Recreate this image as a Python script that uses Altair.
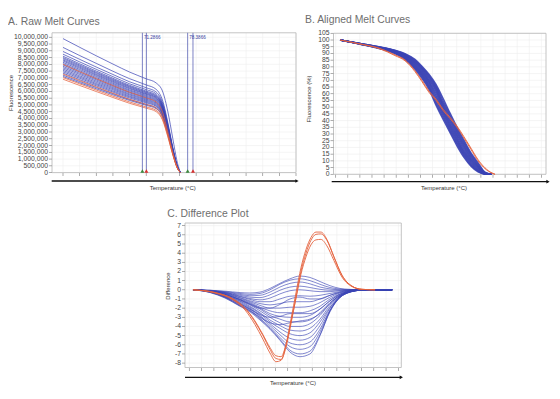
import altair as alt
import pandas as pd

FONT = "Liberation Sans, Arial, Helvetica, sans-serif"
BLUE = "#3a43b4"
RED = "#e4623d"
GRID = "#efefef"
BOX = "#bdbdbd"
TICK = "#8a8a8a"
TITLE_GREY = "#6e6e6e"
W, H = 544, 383

# ---------------- Panel A: raw melt curves (fluorescence, millions) ----------------
A_X = [0, 1, 2, 3, 4, 5, 5.6, 6.0, 6.3, 6.6, 6.85, 7.05]
A_BLUE_M = [
    [9.9, 9.26, 8.63, 8.02, 7.43, 6.93, 6.62, 5.95, 4.5, 2.5, 0.85, 0],
    [9.25, 8.65, 8.07, 7.49, 6.94, 6.48, 6.15, 5.27, 3.7, 1.85, 0.56, 0],
    [8.95, 8.37, 7.8, 7.25, 6.71, 6.27, 5.95, 5.1, 3.58, 1.79, 0.54, 0],
    [8.75, 8.18, 7.63, 7.09, 6.56, 6.13, 5.82, 4.99, 3.5, 1.75, 0.53, 0],
    [8.6, 8.04, 7.5, 6.97, 6.45, 6.02, 5.72, 4.9, 3.44, 1.72, 0.52, 0],
    [8.5, 7.95, 7.41, 6.89, 6.38, 5.95, 5.65, 4.85, 3.4, 1.7, 0.51, 0],
    [8.42, 7.87, 7.34, 6.82, 6.32, 5.89, 5.6, 4.8, 3.37, 1.68, 0.51, 0],
    [8.33, 7.79, 7.26, 6.75, 6.25, 5.83, 5.54, 4.75, 3.33, 1.67, 0.5, 0],
    [8.25, 7.71, 7.19, 6.68, 6.19, 5.78, 5.49, 4.7, 3.3, 1.65, 0.5, 0],
    [8.15, 7.62, 7.11, 6.6, 6.11, 5.71, 5.42, 4.65, 3.26, 1.63, 0.49, 0],
    [8.05, 7.53, 7.02, 6.52, 6.04, 5.64, 5.35, 4.59, 3.22, 1.61, 0.48, 0],
    [7.95, 7.43, 6.93, 6.44, 5.96, 5.57, 5.29, 4.53, 3.18, 1.59, 0.48, 0],
    [7.85, 7.34, 6.85, 6.36, 5.89, 5.5, 5.22, 4.47, 3.14, 1.57, 0.47, 0],
    [7.75, 7.25, 6.76, 6.28, 5.81, 5.43, 5.15, 4.42, 3.1, 1.55, 0.47, 0],
    [7.65, 7.15, 6.67, 6.2, 5.74, 5.36, 5.09, 4.36, 3.06, 1.53, 0.46, 0],
    [7.55, 7.06, 6.58, 6.12, 5.66, 5.29, 5.02, 4.3, 3.02, 1.51, 0.45, 0],
    [7.45, 6.97, 6.5, 6.03, 5.59, 5.22, 4.95, 4.25, 2.98, 1.49, 0.45, 0],
    [7.35, 6.87, 6.41, 5.95, 5.51, 5.15, 4.89, 4.19, 2.94, 1.47, 0.44, 0],
    [7.2, 6.73, 6.28, 5.83, 5.4, 5.04, 4.79, 4.1, 2.88, 1.44, 0.43, 0],
    [7.1, 6.64, 6.19, 5.75, 5.33, 4.97, 4.72, 4.05, 2.84, 1.42, 0.43, 0],
]
A_RED_M = [
    [8.0, 7.46, 6.94, 6.43, 5.94, 5.52, 5.22, 4.4, 3.0, 1.45, 0.42, 0],
    [7.28, 6.8, 6.33, 5.87, 5.42, 5.04, 4.77, 4.05, 2.8, 1.38, 0.4, 0],
    [7.02, 6.56, 6.1, 5.65, 5.22, 4.85, 4.6, 3.9, 2.7, 1.33, 0.38, 0],
    [6.9, 6.44, 5.99, 5.55, 5.12, 4.76, 4.5, 3.82, 2.64, 1.3, 0.37, 0],
]
A_REGION_X = [4.77, 5.01, 7.49, 7.81]
A_REGION_TEXT = ["71.2866", "", "78.3866", ""]
A_REGION_MARK = ["#3d8a3d", "#d8332f", "#3d8a3d", "#d8332f"]
A_X_TICKS = list(range(0, 15))
A_Y_TICKS = [i * 500000 for i in range(21)]

# ---------------- Panel B: aligned melt curves (%) ----------------
B_X = [0.36, 2.01, 3.66, 4.90, 5.73, 6.55, 7.13, 7.71, 8.29, 8.87, 9.45,
       10.02, 10.60, 11.18, 11.76, 12.34, 12.92, 13.17]
B_BLUE = [
    [100, 96.92, 93.52, 89.9, 85.6, 78.3, 71.44, 63.24, 51.5, 41.0, 31.0, 21.2, 12.6, 6.08, 1.88, 0],
    [100, 96.98, 93.66, 90.14, 86.08, 79.08, 72.52, 64.48, 53.0, 42.5, 32.4, 22.6, 13.7, 6.8, 2.32, 0.1, 0],
    [100, 97.03, 93.79, 90.38, 86.56, 79.86, 73.6, 65.72, 54.8, 44.0, 33.8, 24.0, 14.8, 7.74, 2.76, 0.2, 0],
    [100, 97.09, 93.93, 90.62, 87.04, 80.64, 74.54, 66.96, 56.6, 45.5, 35.2, 25.4, 15.9, 8.68, 3.2, 0.3, 0],
    [100, 97.14, 94.06, 90.86, 87.52, 81.42, 75.48, 68.2, 58.4, 47.0, 36.6, 26.8, 17.0, 9.62, 3.92, 0.4, 0],
    [100, 97.2, 94.2, 91.2, 88.0, 82.2, 76.42, 69.28, 60.2, 48.5, 38.0, 28.2, 18.4, 10.56, 4.64, 0.5, 0],
    [100, 97.26, 94.34, 91.44, 88.38, 82.88, 77.36, 70.36, 62.0, 50.0, 39.5, 29.6, 19.8, 11.5, 5.36, 0.7, 0],
    [100, 97.31, 94.47, 91.68, 88.76, 83.56, 78.3, 71.44, 63.24, 51.5, 41.0, 31.0, 21.2, 12.6, 6.08, 0.9, 0],
    [100, 97.37, 94.61, 91.92, 89.14, 84.24, 78.98, 72.52, 64.48, 53.0, 42.5, 32.4, 22.6, 13.7, 6.8, 1.1, 0],
    [100, 97.42, 94.74, 92.16, 89.52, 84.92, 79.76, 73.6, 65.72, 54.8, 44.0, 33.8, 24.0, 14.8, 7.74, 1.3, 0],
    [100, 97.48, 94.88, 92.4, 89.9, 85.6, 80.54, 74.54, 66.96, 56.6, 45.5, 35.2, 25.4, 15.9, 8.68, 1.6, 0],
]
B_RED = [
    [100, 97.0, 93.4, 88.4, 84.5, 76.5, 69.0, 61.0, 55.0, 47.5, 41.5, 35.0, 27.0, 18.5, 10.0, 4.2, 0.8, 0],
    [100, 97.1, 93.7, 89.0, 85.2, 77.3, 70.0, 62.0, 56.0, 48.5, 42.5, 36.0, 28.0, 19.5, 11.0, 4.8, 1.0, 0],
]
B_X_TICKS = list(range(0, 18))
B_Y_TICKS = list(range(0, 106, 5))

# ---------------- Panel C: difference plot ----------------
C_BLUE_X = [0.30, 1.68, 2.90, 4.12, 4.93, 5.75, 6.56, 7.37, 8.19, 9.00,
            9.81, 10.63, 11.44, 12.25, 13.06, 13.88, 15.11, 16.50]
C_BLUE = [
    [0, -0.05, -0.15, -0.3, -0.35, -0.25, 0.15, 0.7, 1.2, 1.5, 1.35, 0.9, 0.45, 0.15, 0.05, 0, 0, 0],
    [0, -0.05, -0.2, -0.4, -0.5, -0.4, 0.0, 0.6, 1.05, 1.2, 1.0, 0.6, 0.25, 0.08, 0, 0, 0, 0],
    [0, -0.1, -0.25, -0.5, -0.65, -0.6, -0.25, 0.3, 0.7, 0.85, 0.65, 0.3, 0.1, 0, 0, 0, 0, 0],
    [0, -0.1, -0.3, -0.6, -0.8, -0.85, -0.55, -0.05, 0.3, 0.4, 0.25, 0.05, -0.05, -0.05, 0, 0, 0, 0],
    [0, -0.1, -0.3, -0.7, -0.95, -1.1, -0.9, -0.45, -0.1, 0.0, -0.1, -0.2, -0.2, -0.1, -0.05, 0, 0, 0],
    [0, -0.1, -0.35, -0.75, -1.05, -1.3, -1.3, -1.0, -0.7, -0.65, -0.7, -0.6, -0.4, -0.2, -0.05, 0, 0, 0],
    [0, -0.12, -0.4, -0.85, -1.2, -1.5, -1.65, -1.5, -1.3, -1.3, -1.3, -1.0, -0.6, -0.3, -0.1, 0, 0, 0],
    [0, -0.12, -0.4, -0.9, -1.3, -1.7, -2.0, -2.0, -1.9, -1.9, -1.8, -1.4, -0.8, -0.35, -0.1, 0, 0, 0],
    [0, -0.15, -0.45, -1.0, -1.4, -1.9, -2.3, -2.5, -2.5, -2.5, -2.3, -1.8, -1.0, -0.45, -0.15, -0.05, 0, 0],
    [0, -0.15, -0.5, -1.05, -1.5, -2.0, -2.6, -2.9, -3.0, -3.0, -2.8, -2.1, -1.2, -0.5, -0.15, -0.05, 0, 0],
    [0, -0.15, -0.5, -1.1, -1.55, -2.1, -2.8, -3.2, -3.5, -3.5, -3.3, -2.5, -1.4, -0.6, -0.2, -0.05, 0, 0],
    [0, -0.18, -0.55, -1.2, -1.65, -2.3, -3.0, -3.6, -4.0, -4.0, -3.7, -2.8, -1.5, -0.65, -0.2, -0.05, 0, 0],
    [0, -0.18, -0.6, -1.25, -1.8, -2.5, -3.3, -3.9, -4.4, -4.5, -4.2, -3.2, -1.7, -0.7, -0.2, -0.05, 0, 0],
    [0, -0.2, -0.65, -1.35, -1.9, -2.6, -3.5, -4.2, -4.8, -5.0, -4.7, -3.5, -1.9, -0.75, -0.25, -0.05, 0, 0],
    [0, -0.2, -0.7, -1.45, -2.0, -2.8, -3.7, -4.6, -5.3, -5.5, -5.2, -3.9, -2.0, -0.8, -0.25, -0.05, 0, 0],
    [0, -0.22, -0.75, -1.55, -2.1, -2.9, -3.9, -4.9, -5.8, -6.0, -5.7, -4.3, -2.2, -0.85, -0.25, -0.05, 0, 0],
    [0, -0.25, -0.8, -1.65, -2.2, -3.1, -4.1, -5.2, -6.2, -6.5, -6.2, -4.6, -2.3, -0.85, -0.25, -0.05, 0, 0],
    [0, -0.28, -0.85, -1.75, -2.3, -3.2, -4.2, -5.4, -6.6, -7.0, -6.7, -4.9, -2.4, -0.8, -0.25, -0.05, 0, 0],
    [0, -0.3, -0.9, -1.8, -2.4, -3.3, -4.3, -5.5, -6.8, -7.3, -7.0, -5.0, -2.3, -0.7, -0.2, -0.05, 0, 0],
    [0, -0.25, -0.8, -1.7, -2.3, -3.0, -3.6, -3.8, -3.6, -3.4, -3.2, -2.6, -1.5, -0.6, -0.2, -0.05, 0, 0],
    [0, -0.2, -0.7, -1.5, -2.1, -2.7, -3.0, -2.9, -2.6, -2.6, -2.6, -2.1, -1.2, -0.5, -0.15, 0, 0, 0],
    [0, -0.15, -0.5, -1.1, -1.6, -2.0, -2.0, -1.6, -1.0, -0.8, -1.0, -1.0, -0.6, -0.25, -0.05, 0, 0, 0],
]
C_RED_X = [0.30, 2.09, 3.55, 4.53, 5.34, 5.99, 6.56, 7.05, 7.46, 7.86, 8.27, 8.68,
           9.08, 9.49, 9.89, 10.30, 10.70, 11.19, 11.76, 12.41, 13.23, 14.04, 15.11]
C_RED = [
    [0, -0.35, -1.1, -2.2, -3.8, -5.4, -6.9, -7.85, -7.7, -6.0, -3.2, -0.3, 2.4, 4.4, 5.7, 6.3, 6.3, 5.5, 3.6, 1.6, 0.4, 0.05, 0],
    [0, -0.3, -1.0, -2.0, -3.5, -5.0, -6.5, -7.5, -7.6, -6.3, -3.7, -0.8, 2.0, 4.0, 5.4, 6.05, 6.1, 5.4, 3.6, 1.6, 0.4, 0.05, 0],
    [0, -0.3, -1.0, -2.0, -3.4, -4.9, -6.3, -7.2, -7.3, -6.0, -3.5, -0.9, 1.7, 3.6, 4.9, 5.45, 5.5, 4.8, 3.2, 1.4, 0.35, 0.05, 0],
]
C_X_TICKS = list(range(0, 18))
C_Y_TICKS = list(range(-8, 8))


def long_df(xs, curves, factor=1.0):
    rows = []
    for i, vals in enumerate(curves):
        for x, v in zip(xs, vals):
            rows.append({"x": x, "y": v * factor, "id": i})
    return pd.DataFrame(rows)


def make_panel(xdom, xrng, ydom, yrng, xticks, yticks, ylabels,
               blue_df, red_df, blue_w, red_w, extras=()):
    xs = alt.Scale(domain=xdom, range=xrng, nice=False, zero=False)
    ys = alt.Scale(domain=ydom, range=yrng, nice=False, zero=False)
    X = lambda f: alt.X(f, scale=xs, axis=None)
    Y = lambda f: alt.Y(f, scale=ys, axis=None)
    gx = alt.Chart(pd.DataFrame({"x": xticks, "y0": ydom[0], "y1": ydom[1]})).mark_rule(
        color=GRID, strokeWidth=0.6).encode(x=X("x:Q"), y=Y("y0:Q"), y2="y1:Q")
    gy = alt.Chart(pd.DataFrame({"y": yticks, "x0": xdom[0], "x1": xdom[1]})).mark_rule(
        color=GRID, strokeWidth=0.6).encode(y=Y("y:Q"), x=X("x0:Q"), x2="x1:Q")
    box = alt.Chart(pd.DataFrame({"x0": [xdom[0]], "x1": [xdom[1]],
                                  "y0": [ydom[0]], "y1": [ydom[1]]})).mark_rect(
        fillOpacity=0, stroke=BOX, strokeWidth=0.9).encode(
        x=X("x0:Q"), x2="x1:Q", y=Y("y0:Q"), y2="y1:Q")
    # y axis: ticks + labels
    ydf = pd.DataFrame({"y": yticks, "x": xdom[0], "lab": ylabels})
    ytk = alt.Chart(ydf).mark_tick(orient="horizontal", size=3, thickness=0.7,
                                   color=TICK, xOffset=-1.5, opacity=1).encode(
        x=X("x:Q"), y=Y("y:Q"))
    ylb = alt.Chart(ydf).mark_text(align="right", baseline="middle", dx=-4,
                                   fontSize=6.8, font=FONT, color="#444444").encode(
        x=X("x:Q"), y=Y("y:Q"), text="lab:N")
    # x axis: ticks only
    xdf = pd.DataFrame({"x": xticks, "y": ydom[0]})
    xtk = alt.Chart(xdf).mark_tick(orient="vertical", size=3, thickness=0.7,
                                   color=TICK, yOffset=2, opacity=1).encode(
        x=X("x:Q"), y=Y("y:Q"))
    blue = alt.Chart(blue_df).mark_line(strokeWidth=blue_w, interpolate="monotone",
                                        opacity=0.9).encode(
        x=X("x:Q"), y=Y("y:Q"), detail="id:N", color=alt.value(BLUE))
    red = alt.Chart(red_df).mark_line(strokeWidth=red_w, interpolate="monotone").encode(
        x=X("x:Q"), y=Y("y:Q"), detail="id:N", color=alt.value(RED))
    layers = [gx, gy, box, ytk, ylb, xtk, blue, red] + [f(X, Y) for f in extras]
    return alt.layer(*layers)


def a_lines(X, Y):
    return alt.Chart(pd.DataFrame({"x": A_REGION_X, "y0": 0, "y1": 10.33e6})).mark_rule(
        color="#5b62b5", strokeWidth=0.8).encode(x=X("x:Q"), y=Y("y0:Q"), y2="y1:Q")


def a_text(X, Y):
    df = pd.DataFrame({"x": A_REGION_X, "t": A_REGION_TEXT, "y": 9.95e6})
    return alt.Chart(df).mark_text(align="left", baseline="middle", dx=1.5, fontSize=4.6,
                                   font=FONT, color="#3a3fa0").encode(
        x=X("x:Q"), y=Y("y:Q"), text="t:N")


def a_marks(X, Y):
    df = pd.DataFrame({"x": A_REGION_X, "c": A_REGION_MARK, "y": 0})
    return alt.Chart(df).mark_point(shape="triangle-up", filled=True, size=16, opacity=1,
                                    yOffset=-1.5).encode(
        x=X("x:Q"), y=Y("y:Q"), color=alt.Color("c:N", scale=None, legend=None))


panelA = make_panel(
    [-0.661, 14.0], [44, 288], [0, 10.33e6], [164.6, 24.8], A_X_TICKS, A_Y_TICKS,
    [f"{v:,}" for v in A_Y_TICKS],
    long_df(A_X, A_BLUE_M, 1e6), long_df(A_X, A_RED_M, 1e6), 0.8, 0.75,
    extras=(a_lines, a_text, a_marks))

panelB = make_panel(
    [-0.18, 17.38], [325.5, 538], [0, 105], [166.3, 25.3], B_X_TICKS, B_Y_TICKS,
    [str(v) for v in B_Y_TICKS],
    long_df(B_X, B_BLUE), long_df(B_X, B_RED), 1.5, 0.9)

panelC = make_panel(
    [-0.35, 17.24], [177, 393.3], [-8.48, 7.29], [359.5, 215], C_X_TICKS, C_Y_TICKS,
    [str(v) for v in C_Y_TICKS],
    long_df(C_BLUE_X, C_BLUE), long_df(C_RED_X, C_RED), 0.7, 0.9)


def text_at(txt, x, y, size, color, angle=0, align="left", baseline="alphabetic"):
    return alt.Chart(pd.DataFrame({"t": [txt]})).mark_text(
        align=align, baseline=baseline, fontSize=size, font=FONT, color=color,
        angle=angle).encode(text="t:N", x=alt.value(x), y=alt.value(y))


def arrow(x0, x1, y):
    one = pd.DataFrame({"a": [0]})
    line = alt.Chart(one).mark_rule(color="#111111", strokeWidth=1.3).encode(
        x=alt.value(x0), x2=alt.value(x1 - 2), y=alt.value(y))
    head = alt.Chart(one).mark_point(shape="triangle-right", filled=True, size=14,
                                     color="#111111", opacity=1).encode(
        x=alt.value(x1 - 2), y=alt.value(y))
    return alt.layer(line, head)


decor = [
    text_at("A. Raw Melt Curves", 0, 17.3, 10.4, TITLE_GREY),
    text_at("B. Aligned Melt Curves", 297, 15.2, 10.4, TITLE_GREY),
    text_at("C. Difference Plot", 159.3, 209, 10.4, TITLE_GREY),
    text_at("Fluorescence", 2.5, 85, 6, "#333333", 270, "center", "middle"),
    text_at("Fluorescence (%)", 301.3, 91, 6, "#333333", 270, "center", "middle"),
    text_at("Difference", 160.3, 278, 6, "#333333", 270, "center", "middle"),
    text_at("Temperature (°C)", 164.7, 180.3, 6, "#333333", 0, "center", "middle"),
    text_at("Temperature (°C)", 436, 179.7, 6, "#333333", 0, "center", "middle"),
    text_at("Temperature (°C)", 285, 375.3, 6, "#333333", 0, "center", "middle"),
    arrow(43.7, 291, 173),
    arrow(323.7, 542, 173.7),
    arrow(177, 395.3, 369.3),
]

chart = alt.layer(panelA, panelB, panelC, *decor).resolve_scale(
    x="independent", y="independent").properties(
    width=W, height=H, padding=0, autosize=alt.AutoSizeParams(type="none")
).configure_view(stroke=None)

chart.save("out.html", embed_options={"renderer": "svg", "actions": False})
